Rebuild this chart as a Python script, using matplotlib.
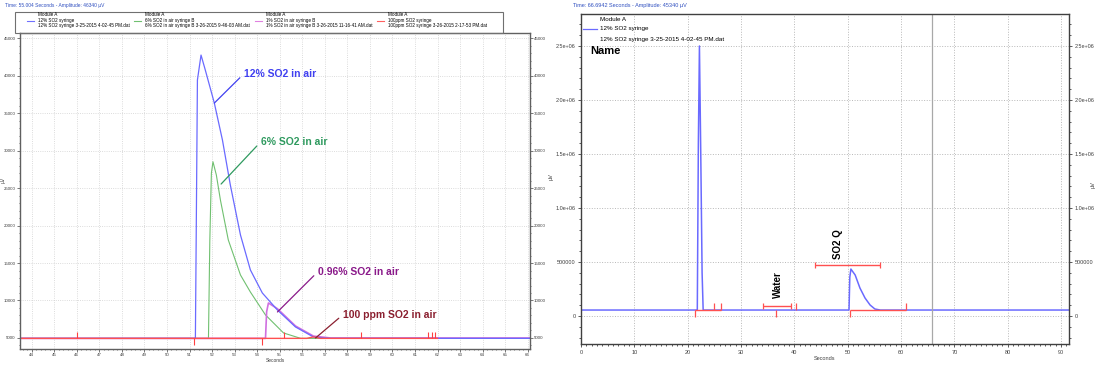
import matplotlib.pyplot as plt
from matplotlib.ticker import MultipleLocator
from matplotlib.patches import Rectangle

plt.rcParams['font.family'] = ['Liberation Sans', 'DejaVu Sans']

# ---- left panel: four overlaid runs (seconds, µV) ----
t12 = [43.5, 51.26, 51.30, 51.35, 51.51, 51.70, 52.10, 52.46, 52.81, 53.26, 53.70,
       54.23, 54.90, 55.70, 56.50, 57.26, 66.1]
v12 = [4950, 4950, 20000, 39400, 42730, 40730, 36330, 31400, 25400, 18730, 14070,
       11000, 8730, 6470, 5130, 4950, 4950]

t6 = [43.5, 51.84, 51.90, 51.97, 52.04, 52.19, 52.37, 52.72, 53.26, 53.70, 54.37,
      55.17, 55.93, 66.1]
v6 = [4950, 4950, 18000, 27000, 28500, 26730, 23400, 18070, 13400, 11130, 8070,
      5670, 4950, 4950]

t1 = [43.5, 54.37, 54.42, 54.50, 54.90, 55.70, 56.50, 57.26, 66.1]
v1 = [4950, 4950, 8500, 9670, 8900, 6600, 5250, 5000, 5000]

t100 = [43.5, 56.2, 56.5, 56.8, 62.0]
v100 = [4950, 4950, 5150, 4950, 4950]

mark_t = [46.0, 51.2, 54.2, 55.2, 58.6, 61.6, 61.75, 61.9]
mark_dir = [1, -1, -1, 1, 1, 1, 1, 1]

left_xticks = list(range(44, 67))
left_yticks = list(range(5000, 45001, 5000))

legend_cols = [
    ('12% SO2 syringe', '12% SO2 syringe 3-25-2015 4-02-45 PM.dat', '#7070ff'),
    ('6% SO2 in air syringe B', '6% SO2 in air syringe B 3-26-2015 9-46-03 AM.dat', '#70c070'),
    ('1% SO2 in air syringe B', '1% SO2 in air syringe B 3-26-2015 11-16-41 AM.dat', '#e080e0'),
    ('100ppm SO2 syringe', '100ppm SO2 syringe 3-26-2015 2-17-53 PM.dat', '#ff6060'),
]

# ---- right panel: 12% SO2 syringe run ----
tA = [0, 21.8, 22.0, 22.2, 22.45, 22.7, 22.9, 50.25, 50.4, 50.6, 51.4, 52.3,
      53.25, 54.2, 55.1, 56.1, 93]
vA = [55500, 55500, 1.6e6, 2.5e6, 1.5e6, 4.0e5, 55500, 55500, 3.6e5, 4.35e5,
      3.8e5, 2.59e5, 1.67e5, 1.02e5, 6.5e4, 55500, 55500]

red_segs = [(21.4, 26.3), (50.4, 61.0)]
rmark_t = [21.4, 25.0, 26.3, 36.5, 40.3, 50.4, 61.0]
rmark_dir = [-1, 1, 1, -1, 1, -1, 1]
brackets = [('Water', 34.1, 39.4, 92600, 36.9, 287000),
            ('SO2 Q', 43.9, 56.1, 472000, 48.2, 666000)]
right_yticks = [0, 500000, 1.0e6, 1.5e6, 2.0e6, 2.5e6]
right_ylabels = ['0', '500000', '1.0e+06', '1.5e+06', '2.0e+06', '2.5e+06']

fig = plt.figure(figsize=(10.99, 3.66), dpi=100)

# ================= left panel =================
ax = fig.add_axes([0.0182, 0.0464, 0.464, 0.8634])
ax.plot(t6, v6, color='#70c070', lw=0.8)
ax.plot(t1, v1, color='#d070e0', lw=1.2)
ax.plot(t12, v12, color='#6a6aff', lw=0.9)
ax.plot(t100, v100, color='#ff5050', lw=1.0)
ax.vlines(mark_t, 4950, [4950 + d * 900 for d in mark_dir], color='#ff4040', lw=0.8)

ax.set_xlim(43.48, 66.1)
ax.set_ylim(3530, 45670)
ax.set_xticks(left_xticks)
ax.set_yticks(left_yticks)
ax.xaxis.set_minor_locator(MultipleLocator(0.2))
ax.yaxis.set_minor_locator(MultipleLocator(1000))
ax.grid(True, which='major', ls=':', color='#d0d0d0', lw=0.6)
ax.tick_params(which='both', direction='out', labelsize=3.2, colors='#404040',
               right=True, labelright=True, length=2, width=0.5, pad=1)
ax.tick_params(which='minor', length=1)
for s in ax.spines.values():
    s.set_color('#606060')
    s.set_linewidth(1.0)

ann_kw = dict(fontsize=7.5, fontweight='bold', ha='left', va='center')
ax.annotate('12% SO2 in air', xy=(52.10, 36330), xytext=(53.40, 40200), color='#4040f0',
            arrowprops=dict(arrowstyle='-', color='#4040f0', lw=0.9, shrinkA=1, shrinkB=0,
                            relpos=(0, 0.5)), **ann_kw)
ax.annotate('6% SO2 in air', xy=(52.40, 25530), xytext=(54.15, 31130), color='#2f9a5f',
            arrowprops=dict(arrowstyle='-', color='#2f9a5f', lw=0.9, shrinkA=1, shrinkB=0,
                            relpos=(0, 0.5)), **ann_kw)
ax.annotate('0.96% SO2 in air', xy=(54.90, 8470), xytext=(56.68, 13800), color='#8a1a8a',
            arrowprops=dict(arrowstyle='-', color='#8a1a8a', lw=0.9, shrinkA=1, shrinkB=0,
                            relpos=(0, 0.5)), **ann_kw)
ax.annotate('100 ppm SO2 in air', xy=(56.59, 5000), xytext=(57.79, 8070), color='#8b2030',
            arrowprops=dict(arrowstyle='-', color='#8b2030', lw=0.9, shrinkA=1, shrinkB=0,
                            relpos=(0, 0.5)), **ann_kw)

fig.text(5 / 1099, 1 - 6 / 366, 'Time: 55.004 Seconds - Amplitude: 46340 µV',
         fontsize=3.5, color='#3050c0', va='center')
fig.text(275 / 1099, 1 - 360 / 366, 'Seconds', fontsize=3.5, color='#404040',
         ha='center', va='center')
fig.text(3 / 1099, 1 - 180 / 366, 'µV', fontsize=3.5, rotation=90, color='#404040',
         ha='center', va='center')
fig.text(551 / 1099, 1 - 177 / 366, 'µV', fontsize=4, rotation=90, color='#404040',
         ha='center', va='center')

# legend box above the left plot
fig.patches.append(Rectangle((15 / 1099, 1 - 33 / 366), 488 / 1099, 21 / 366,
                             transform=fig.transFigure, fill=False,
                             edgecolor='#707070', lw=0.8))
col_x = [38, 145, 266, 388]
for (name, fname, col), cx in zip(legend_cols, col_x):
    fig.text(cx / 1099, 1 - 15 / 366, 'Module A', fontsize=3.3, va='center')
    fig.text(cx / 1099, 1 - 20.5 / 366, name, fontsize=3.3, va='center')
    fig.text(cx / 1099, 1 - 26 / 366, fname, fontsize=3.3, va='center')
    fig.add_artist(plt.Line2D([(cx - 11) / 1099, (cx - 4) / 1099],
                              [1 - 20.5 / 366, 1 - 20.5 / 366],
                              transform=fig.transFigure, color=col, lw=0.8))

# ================= right panel =================
ax2 = fig.add_axes([0.5287, 0.0601, 0.4440, 0.9016])
ax2.plot(tA, vA, color='#6a6aff', lw=1.1)
for a, b in red_segs:
    ax2.hlines(55500, a, b, color='#ff5050', lw=1.0)
ax2.vlines(rmark_t, 55500, [55500 + d * 65000 for d in rmark_dir], color='#ff5050', lw=0.9)
for label, a, b, yb, tx, ty in brackets:
    ax2.hlines(yb, a, b, color='#ff5050', lw=1.0)
    ax2.vlines([a, b], yb - 30000, yb + 30000, color='#ff5050', lw=0.9)
    ax2.text(tx, ty, label, rotation=90, fontsize=7, fontweight='bold',
             ha='center', va='center')
ax2.axvline(65.8, color='#a8a8a8', lw=0.9)

ax2.set_xlim(0, 91.5)
ax2.set_ylim(-2.59e5, 2.796e6)
ax2.set_xticks(range(0, 91, 10))
ax2.set_yticks(right_yticks)
ax2.set_yticklabels(right_ylabels)
ax2.xaxis.set_minor_locator(MultipleLocator(1))
ax2.yaxis.set_minor_locator(MultipleLocator(1e5))
ax2.grid(True, which='major', ls=':', color='#b8b8b8', lw=0.7)
ax2.tick_params(which='both', direction='out', labelsize=4, colors='#404040',
                right=True, labelright=True, length=2.5, width=0.6, pad=1.5)
ax2.tick_params(which='minor', length=1.5)
for s in ax2.spines.values():
    s.set_color('#404040')
    s.set_linewidth(1.0)

ax2.text(1.7, 2.45e6, 'Name', fontsize=8, fontweight='bold', va='center')
ax2.text(0.039, 0.982, 'Module A', transform=ax2.transAxes, fontsize=4.5, va='center')
ax2.plot([0.004, 0.033], [0.955, 0.955], transform=ax2.transAxes, color='#6a6aff', lw=0.9)
ax2.text(0.039, 0.955, '12% SO2 syringe', transform=ax2.transAxes, fontsize=4.5, va='center')
ax2.text(0.039, 0.924, '12% SO2 syringe 3-25-2015 4-02-45 PM.dat', transform=ax2.transAxes,
         fontsize=4.5, va='center')

fig.text(573 / 1099, 1 - 5 / 366, 'Time: 66.6942 Seconds - Amplitude: 45340 µV',
         fontsize=4, color='#3050c0', va='center')
fig.text(825 / 1099, 1 - 358 / 366, 'Seconds', fontsize=4, color='#404040',
         ha='center', va='center')
fig.text(1093 / 1099, 1 - 185 / 366, 'µV', fontsize=4, rotation=90, color='#404040',
         ha='center', va='center')

fig.savefig('out.png', dpi=100)
